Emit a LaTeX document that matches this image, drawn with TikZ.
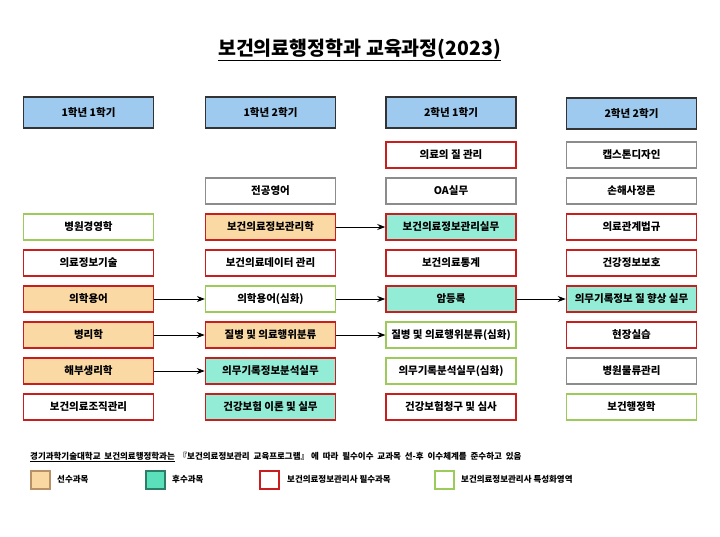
\documentclass[tikz,border=0pt]{standalone}
\usepackage{fontspec}
\setmainfont{Noto Sans CJK KR}
\usetikzlibrary{arrows.meta}
\definecolor{hdrfill}{HTML}{9DCAEE}
\definecolor{hdrdraw}{HTML}{333333}
\definecolor{prefill}{HTML}{FAD9A4}
\definecolor{postfill}{HTML}{93ECD5}
\definecolor{reqred}{HTML}{C81E1E}
\definecolor{spcgreen}{HTML}{9CCB5C}
\definecolor{gengray}{HTML}{8C8C8C}
\definecolor{lgpre}{HTML}{F9D8A2}
\definecolor{lgpredraw}{HTML}{B89266}
\definecolor{lgpost}{HTML}{5BE0BC}
\definecolor{lgpostdraw}{HTML}{2E7D68}
\tikzset{
  x=1pt,y=-1pt,
  course/.style={minimum width=130pt,minimum height=26pt,inner sep=0pt,font=\fontsize{10.5}{12}\selectfont\bfseries,line width=1.2pt},
  hdr/.style={course,minimum height=31pt,fill=hdrfill,draw=hdrdraw},
  req/.style={course,draw=reqred,line width=1.5pt,fill=white},
  spc/.style={course,draw=spcgreen,fill=white},
  gen/.style={course,draw=gengray,fill=white},
  pre/.style={req,fill=prefill},
  post/.style={req,fill=postfill},
  flow/.style={-{Stealth[length=8pt,width=6pt]},line width=1pt,black},
  lgbox/.style={minimum width=19pt,minimum height=18pt,inner sep=0pt,line width=1.3pt},
  lgtxt/.style={anchor=west,inner sep=0pt,font=\fontsize{8.5}{10}\selectfont\bfseries},
}
\begin{document}
\begin{tikzpicture}
\useasboundingbox[fill=white] (0,0) rectangle (720,536);
\node[font=\fontsize{19.5}{24}\selectfont\bfseries] (title) at (359.5,50) {\underline{보건의료행정학과 교육과정(2023)}};
% headers
\node[hdr] (h1) at (88.5,112.5) {1학년 1학기};
\node[hdr] (h2) at (270.5,112.5) {1학년 2학기};
\node[hdr] (h3) at (451,112.5) {2학년 1학기};
\node[hdr] (h4) at (631.5,113.5) {2학년 2학기};
% column 1
\node[spc] (a3) at (88.5,227) {병원경영학};
\node[req] (a4) at (88.5,263) {의료정보기술};
\node[pre] (a5) at (88.5,299) {의학용어};
\node[pre] (a6) at (88.5,335) {병리학};
\node[pre] (a7) at (88.5,371) {해부생리학};
\node[req] (a8) at (88.5,407) {보건의료조직관리};
% column 2
\node[gen] (b2) at (270.5,191) {전공영어};
\node[pre] (b3) at (270.5,227) {보건의료정보관리학};
\node[req] (b4) at (270.5,263) {보건의료데이터 관리};
\node[spc] (b5) at (270.5,299) {의학용어(심화)};
\node[pre] (b6) at (270.5,335) {질병 및 의료행위분류};
\node[post] (b7) at (270.5,371) {의무기록정보분석실무};
\node[post] (b8) at (270.5,407) {건강보험 이론 및 실무};
% column 3
\node[req] (c1) at (451,155) {의료의 질 관리};
\node[gen] (c2) at (451,191) {OA실무};
\node[post] (c3) at (451,227) {보건의료정보관리실무};
\node[req] (c4) at (451,263) {보건의료통계};
\node[post] (c5) at (451,299) {암등록};
\node[spc] (c6) at (451,335) {질병 및 의료행위분류(심화)};
\node[spc] (c7) at (451,371) {의무기록분석실무(심화)};
\node[req] (c8) at (451,407) {건강보험청구 및 심사};
% column 4
\node[gen] (d1) at (631.5,155) {캡스톤디자인};
\node[gen] (d2) at (631.5,191) {손해사정론};
\node[req] (d3) at (631.5,227) {의료관계법규};
\node[req] (d4) at (631.5,263) {건강정보보호};
\node[post] (d5) at (631.5,299) {의무기록정보 질 향상 실무};
\node[req] (d6) at (631.5,335) {현장실습};
\node[gen] (d7) at (631.5,371) {병원물류관리};
\node[spc] (d8) at (631.5,407) {보건행정학};
% arrows
\draw[flow] (b3) -- (c3);
\draw[flow] (a5) -- (b5);
\draw[flow] (b5) -- (c5);
\draw[flow] (c5) -- (d5);
\draw[flow] (a6) -- (b6);
\draw[flow] (b6) -- (c6);
\draw[flow] (a7) -- (b7);
% legend
\node[lgtxt] (note) at (30,457) {\underline{경기과학기술대학교\ \ 보건의료행정학과는}\ \ 『보건의료정보관리\ \ 교육프로그램』\ 에\ \ 따라\ \ 필수이수\ \ 교과목\ \ 선-후\ \ 이수체계를\ \ 준수하고\ \ 있음};
\node[lgbox,fill=lgpre,draw=lgpredraw] (l1) at (40.5,480) {};
\node[lgtxt] (l1t) at (57,479) {선수과목};
\node[lgbox,fill=lgpost,draw=lgpostdraw] (l2) at (155.5,480) {};
\node[lgtxt] (l2t) at (172,479) {후수과목};
\node[lgbox,fill=white,draw=reqred] (l3) at (269.5,480) {};
\node[lgtxt] (l3t) at (287,479) {보건의료정보관리사 필수과목};
\node[lgbox,fill=white,draw=spcgreen] (l4) at (444.5,480) {};
\node[lgtxt] (l4t) at (461,479) {보건의료정보관리사 특성화영역};
\end{tikzpicture}
\end{document}
